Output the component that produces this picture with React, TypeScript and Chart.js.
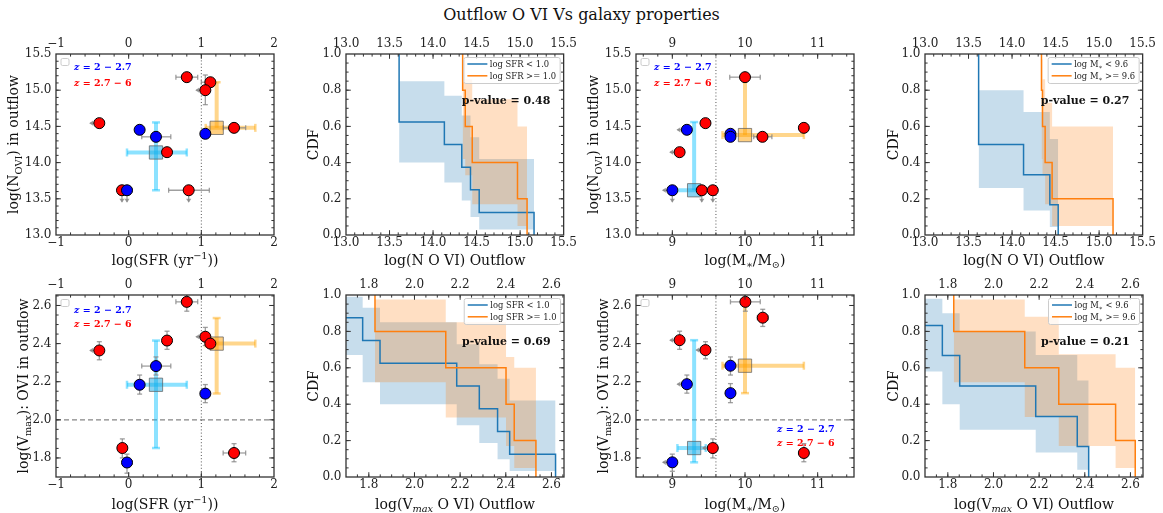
import React, { useEffect, useRef } from "react";
import { Chart, registerables } from "chart.js";

Chart.register(...registerables);

const SERIF = "'DejaVu Serif', 'Liberation Serif', serif";
const BLUE_LINE = "#1f77b4";
const ORANGE_LINE = "#ff7f0e";

// ---------------- tick labels ----------------
const sfrTicks = [-1, 0, 1, 2];
const massTicks = [9, 10, 11];
const nTicks = [13.0, 13.5, 14.0, 14.5, 15.0, 15.5];
const vTicks = [1.8, 2.0, 2.2, 2.4, 2.6];
const cdfTicks = [0.0, 0.2, 0.4, 0.6, 0.8, 1.0];

// z group: 1 -> z = 2.7-6 (red), 0 -> z = 2-2.7 (blue)
// ---------------- Panel 1: log SFR vs log N(OVI) ----------------
const p1X = [0.8, 1.124, 1.055, -0.404, 1.45, 0.528, -0.092, 0.826, 0.151, 0.376, 1.055, -0.023];
const p1Y = [15.18, 15.11, 15.0, 14.545, 14.48, 14.144, 13.618, 13.618, 14.453, 14.356, 14.398, 13.618];
const p1Z = [1, 1, 1, 1, 1, 1, 1, 1, 0, 0, 0, 0];
const p1XErr = [[0.65, 0.95], [1.0, 1.124], [0.93, 1.055], [-0.53, -0.404], [1.3, 1.61], null, [-0.14, -0.05], [0.55, 1.11], null, [0.18, 0.58], null, [-0.08, 0.05]];
const p1YErr = [null, null, [14.8, 15.21], null, null, null, [13.46, 13.618], [13.46, 13.618], null, null, null, [13.46, 13.618]];
const p1Lim = ["", "", "L", "L", "", "", "D", "D", "", "", "", "D"];
const p1SumX = [0.376, 1.211];
const p1SumY = [14.14, 14.48];
const p1SumXErr = [[-0.023, 0.8], [1.06, 1.743]];
const p1SumYErr = [[13.618, 14.555], [14.48, 15.11]];

// ---------------- Panel 3: log M* vs log N(OVI) ----------------
const p3X = [10.0, 9.456, 9.1, 10.24, 10.81, 9.405, 9.557, 9.2, 9.8, 9.8, 9.0];
const p3Y = [15.18, 14.545, 14.144, 14.356, 14.48, 13.618, 13.618, 14.453, 14.398, 14.356, 13.618];
const p3Z = [1, 1, 1, 1, 1, 1, 1, 0, 0, 0, 0];
const p3XErr = [[9.79, 10.21], null, [8.97, 9.1], [10.12, 10.37], null, null, null, [9.07, 9.2], null, null, [8.87, 9.0]];
const p3YErr = [null, null, null, null, null, [13.46, 13.618], [13.46, 13.618], null, null, null, [13.46, 13.618]];
const p3Lim = ["", "", "L", "", "", "D", "D", "L", "", "", "LD"];
const p3SumX = [9.3, 10.0];
const p3SumY = [13.618, 14.38];
const p3SumXErr = [[9.02, 9.45], [9.69, 10.81]];
const p3SumYErr = [[13.618, 14.56], [14.38, 15.18]];

// ---------------- Panel 5: log SFR vs log Vmax ----------------
const p5X = [0.8, 1.055, 1.124, 0.528, -0.404, -0.087, 1.45, 0.376, 0.151, 1.055, -0.023];
const p5Y = [2.619, 2.436, 2.4, 2.416, 2.364, 1.852, 1.826, 2.282, 2.184, 2.1375, 1.776];
const p5Z = [1, 1, 1, 1, 1, 1, 1, 0, 0, 0, 0];
const p5XErr = [[0.65, 0.95], [0.93, 1.055], null, null, [-0.53, -0.404], [-0.14, -0.03], [1.3, 1.61], [0.18, 0.58], null, null, [-0.08, 0.05]];
const p5YErr = [[2.57, 2.665], [2.39, 2.485], null, [2.37, 2.465], [2.315, 2.41], [1.8, 1.9], [1.78, 1.875], [2.235, 2.33], [2.135, 2.235], [2.09, 2.185], [1.72, 1.82]];
const p5Lim = ["", "L", "", "", "L", "", "", "", "", "", ""];
const p5SumX = [0.376, 1.211];
const p5SumY = [2.184, 2.4];
const p5SumXErr = [[-0.023, 0.8], [1.06, 1.743]];
const p5SumYErr = [[1.852, 2.416], [2.138, 2.534]];

// ---------------- Panel 7: log M* vs log Vmax ----------------
const p7X = [10.005, 10.244, 9.1, 9.456, 9.557, 10.81, 9.8, 9.2, 9.8, 9.0];
const p7Y = [2.619, 2.536, 2.418, 2.366, 1.852, 1.826, 2.284, 2.187, 2.14, 1.777];
const p7Z = [1, 1, 1, 1, 1, 1, 0, 0, 0, 0];
const p7XErr = [[9.8, 10.21], [10.17, 10.32], [8.97, 9.1], [9.33, 9.456], [9.42, 9.557], null, null, [9.07, 9.2], null, [8.87, 9.0]];
const p7YErr = [[2.57, 2.665], [2.49, 2.58], [2.37, 2.465], [2.32, 2.41], [1.8, 1.9], [1.78, 1.875], [2.235, 2.33], [2.14, 2.235], [2.09, 2.19], [1.73, 1.82]];
const p7Lim = ["", "", "L", "L", "L", "", "", "L", "", "L"];
const p7SumX = [9.3, 10.0];
const p7SumY = [1.852, 2.284];
const p7SumXErr = [[9.07, 9.46], [9.69, 10.81]];
const p7SumYErr = [[1.777, 2.418], [2.14, 2.619]];

// ---------------- Panel 2: CDF of N(OVI), split by SFR ----------------
const c2BlueX = [13.61, 14.13, 14.33, 14.43, 14.53, 15.16];
const c2BlueS = [0.625, 0.5, 0.375, 0.25, 0.125, 0];
const c2BlueHi = [0.85, 0.77, 0.66, 0.54, 0.42];
const c2BlueLo = [0.4, 0.29, 0.19, 0.1, 0.03];
const c2OrX = [14.34, 14.37, 14.45, 14.97, 15.08];
const c2OrS = [0.8, 0.6, 0.4, 0.2, 0];
const c2OrHi = [0.97, 0.86, 0.75, 0.6];
const c2OrLo = [0.42, 0.33, 0.17, 0.05];

// ---------------- Panel 4: CDF of N(OVI), split by M* ----------------
const c4BlueX = [13.616, 14.132, 14.434, 14.53];
const c4BlueS = [0.5, 0.333, 0.167, 0];
const c4BlueHi = [0.8, 0.68, 0.53];
const c4BlueLo = [0.26, 0.136, 0.044];
const c4OrX = [14.338, 14.35, 14.38, 14.46, 15.16];
const c4OrS = [0.8, 0.6, 0.4, 0.2, 0];
const c4OrHi = [0.97, 0.86, 0.73, 0.6];
const c4OrLo = [0.42, 0.33, 0.17, 0.05];

// ---------------- Panel 6: CDF of Vmax, split by SFR ----------------
const c6BlueX = [1.68, 1.773, 1.849, 2.185, 2.284, 2.364, 2.417, 2.618];
const c6BlueS = [0.875, 0.75, 0.625, 0.5, 0.375, 0.25, 0.125, 0];
const c6BlueHi = [0.99, 0.93, 0.85, 0.73, 0.62, 0.54, 0.42];
const c6BlueLo = [0.67, 0.52, 0.4, 0.285, 0.187, 0.098, 0.033];
const c6OrX = [1.827, 2.137, 2.401, 2.437, 2.532];
const c6OrS = [0.8, 0.6, 0.4, 0.2, 0];
const c6OrHi = [0.975, 0.85, 0.66, 0.6];
const c6OrLo = [0.52, 0.327, 0.17, 0.05];

// ---------------- Panel 8: CDF of Vmax, split by M* ----------------
const c8BlueX = [1.68, 1.776, 1.852, 2.185, 2.367, 2.417];
const c8BlueS = [0.833, 0.667, 0.5, 0.333, 0.167, 0];
const c8BlueHi = [0.98, 0.9, 0.8, 0.67, 0.53];
const c8BlueLo = [0.58, 0.4, 0.26, 0.135, 0.04];
const c8OrX = [1.826, 2.137, 2.286, 2.535, 2.621];
const c8OrS = [0.8, 0.6, 0.4, 0.2, 0];
const c8OrHi = [0.975, 0.88, 0.675, 0.6];
const c8OrLo = [0.52, 0.33, 0.17, 0.05];

const pValues = ["0.48", "0.27", "0.69", "0.21"];

// ---------------- types ----------------
type Seg = { t: string; sub?: boolean; sup?: boolean; i?: boolean; b?: boolean };
interface Axis { min: number; max: number; ticks: number[]; dec: number; minor: number }
interface Pts { x: number[]; y: number[]; z: number[]; xerr: any[]; yerr: any[]; lim: string[] }
interface Sum { x: number[]; y: number[]; xerr: number[][]; yerr: number[][] }
interface Cdf { x: number[]; s: number[]; hi: number[]; lo: number[] }
interface PanelCfg {
  kind: "scatter" | "cdf";
  left: number; top: number; h: number;
  xa: Axis; ya: Axis;
  xTitle: Seg[]; yTitle: Seg[]; yTitleX: number; xTitleDy: number;
  pts?: Pts; sum?: Sum; vline?: number; hline?: number;
  zLeg?: { x: number; y1: number; y2: number; box: boolean };
  blue?: Cdf; orange?: Cdf; legend?: Seg[][]; pval?: string;
}

const PW = 218;
const LEFT_W = 56;
const TOP_H = 30;
const BOT_H = 36;
const RIGHT_PAD = 16;

const sfrAxis: Axis = { min: -1, max: 2, ticks: sfrTicks, dec: 0, minor: 0.2 };
const massAxis: Axis = { min: 8.5, max: 11.5, ticks: massTicks, dec: 0, minor: 0.2 };
const nAxis: Axis = { min: 13.0, max: 15.5, ticks: nTicks, dec: 1, minor: 0.1 };
const vAxis: Axis = { min: 1.7, max: 2.655, ticks: vTicks, dec: 1, minor: 0.05 };
const cdfAxis: Axis = { min: 0, max: 1, ticks: cdfTicks, dec: 1, minor: 0.05 };

const T_SFR: Seg[] = [{ t: "log(SFR (yr" }, { t: "\u22121", sup: true }, { t: "))" }];
const T_MASS: Seg[] = [{ t: "log(M" }, { t: "\u2217", sub: true }, { t: "/M" }, { t: "\u2299", sub: true }, { t: ")" }];
const T_NCDF: Seg[] = [{ t: "log(N O VI) Outflow" }];
const T_VCDF: Seg[] = [{ t: "log(V" }, { t: "max", sub: true, i: true }, { t: " O VI) Outflow" }];
const T_N: Seg[] = [{ t: "log(N" }, { t: "OVI", sub: true }, { t: ") in outflow" }];
const T_V: Seg[] = [{ t: "log(V" }, { t: "max", sub: true }, { t: "): OVI in outflow" }];
const T_CDF: Seg[] = [{ t: "CDF" }];
const L_SFR: Seg[][] = [[{ t: "log SFR < 1.0" }], [{ t: "log SFR >= 1.0" }]];
const L_MASS: Seg[][] = [
  [{ t: "log M" }, { t: "\u2217", sub: true }, { t: " < 9.6" }],
  [{ t: "log M" }, { t: "\u2217", sub: true }, { t: " >= 9.6" }],
];

const COLS = [56, 346, 636, 925];
const ROW1 = { top: 54, h: 181, dy: 24.5 };
const ROW2 = { top: 295, h: 182, dy: 26.5 };

const panels: PanelCfg[] = [
  {
    kind: "scatter", left: COLS[0], top: ROW1.top, h: ROW1.h, xa: sfrAxis, ya: nAxis,
    xTitle: T_SFR, yTitle: T_N, yTitleX: 13.3, xTitleDy: ROW1.dy,
    pts: { x: p1X, y: p1Y, z: p1Z, xerr: p1XErr, yerr: p1YErr, lim: p1Lim },
    sum: { x: p1SumX, y: p1SumY, xerr: p1SumXErr, yerr: p1SumYErr },
    vline: 1, zLeg: { x: 18, y1: 13, y2: 28.5, box: true },
  },
  {
    kind: "cdf", left: COLS[1], top: ROW1.top, h: ROW1.h, xa: nAxis, ya: cdfAxis,
    xTitle: T_NCDF, yTitle: T_CDF, yTitleX: 22.7, xTitleDy: ROW1.dy,
    blue: { x: c2BlueX, s: c2BlueS, hi: c2BlueHi, lo: c2BlueLo },
    orange: { x: c2OrX, s: c2OrS, hi: c2OrHi, lo: c2OrLo },
    legend: L_SFR, pval: pValues[0],
  },
  {
    kind: "scatter", left: COLS[2], top: ROW1.top, h: ROW1.h, xa: massAxis, ya: nAxis,
    xTitle: T_MASS, yTitle: T_N, yTitleX: 13.3, xTitleDy: ROW1.dy,
    pts: { x: p3X, y: p3Y, z: p3Z, xerr: p3XErr, yerr: p3YErr, lim: p3Lim },
    sum: { x: p3SumX, y: p3SumY, xerr: p3SumXErr, yerr: p3SumYErr },
    vline: 9.6, zLeg: { x: 18, y1: 13, y2: 28.5, box: true },
  },
  {
    kind: "cdf", left: COLS[3], top: ROW1.top, h: ROW1.h, xa: nAxis, ya: cdfAxis,
    xTitle: T_NCDF, yTitle: T_CDF, yTitleX: 23.7, xTitleDy: ROW1.dy,
    blue: { x: c4BlueX, s: c4BlueS, hi: c4BlueHi, lo: c4BlueLo },
    orange: { x: c4OrX, s: c4OrS, hi: c4OrHi, lo: c4OrLo },
    legend: L_MASS, pval: pValues[1],
  },
  {
    kind: "scatter", left: COLS[0], top: ROW2.top, h: ROW2.h, xa: sfrAxis, ya: vAxis,
    xTitle: T_SFR, yTitle: T_V, yTitleX: 22.7, xTitleDy: ROW2.dy,
    pts: { x: p5X, y: p5Y, z: p5Z, xerr: p5XErr, yerr: p5YErr, lim: p5Lim },
    sum: { x: p5SumX, y: p5SumY, xerr: p5SumXErr, yerr: p5SumYErr },
    vline: 1, hline: 2.0, zLeg: { x: 18, y1: 15, y2: 29, box: true },
  },
  {
    kind: "cdf", left: COLS[1], top: ROW2.top, h: ROW2.h, xa: vAxis, ya: cdfAxis,
    xTitle: T_VCDF, yTitle: T_CDF, yTitleX: 22.7, xTitleDy: ROW2.dy,
    blue: { x: c6BlueX, s: c6BlueS, hi: c6BlueHi, lo: c6BlueLo },
    orange: { x: c6OrX, s: c6OrS, hi: c6OrHi, lo: c6OrLo },
    legend: L_SFR, pval: pValues[2],
  },
  {
    kind: "scatter", left: COLS[2], top: ROW2.top, h: ROW2.h, xa: massAxis, ya: vAxis,
    xTitle: T_MASS, yTitle: T_V, yTitleX: 23, xTitleDy: ROW2.dy,
    pts: { x: p7X, y: p7Y, z: p7Z, xerr: p7XErr, yerr: p7YErr, lim: p7Lim },
    sum: { x: p7SumX, y: p7SumY, xerr: p7SumXErr, yerr: p7SumYErr },
    vline: 9.6, hline: 2.0, zLeg: { x: 141, y1: 133.5, y2: 148, box: true },
  },
  {
    kind: "cdf", left: COLS[3], top: ROW2.top, h: ROW2.h, xa: vAxis, ya: cdfAxis,
    xTitle: T_VCDF, yTitle: T_CDF, yTitleX: 23.7, xTitleDy: ROW2.dy,
    blue: { x: c8BlueX, s: c8BlueS, hi: c8BlueHi, lo: c8BlueLo },
    orange: { x: c8OrX, s: c8OrS, hi: c8OrHi, lo: c8OrLo },
    legend: L_MASS, pval: pValues[3],
  },
];

// ---------------- helpers ----------------
function fmt(v: number, dec: number) {
  const t = Math.abs(v) < 1e-9 ? 0 : v;
  return t.toFixed(dec).replace("-", "\u2212");
}

function richParts(ctx: CanvasRenderingContext2D, segs: Seg[], size: number, bold = false) {
  return segs.map((s) => {
    const small = s.sub || s.sup;
    const fs = small ? size * 0.7 : size;
    const font = `${s.i ? "italic " : ""}${s.b || bold ? "bold " : ""}${fs}px ${SERIF}`;
    ctx.font = font;
    return { s, font, w: ctx.measureText(s.t).width, dy: s.sub ? size * 0.24 : s.sup ? -size * 0.42 : 0 };
  });
}

function drawRich(ctx: CanvasRenderingContext2D, segs: Seg[], x: number, y: number, size: number,
  align: "left" | "center", color: string, bold = false) {
  const parts = richParts(ctx, segs, size, bold);
  const total = parts.reduce((a, p) => a + p.w, 0);
  let cx = align === "center" ? x - total / 2 : x;
  const base = y + size * 0.36;
  ctx.fillStyle = color;
  ctx.textAlign = "left";
  ctx.textBaseline = "alphabetic";
  for (const p of parts) {
    ctx.font = p.font;
    ctx.fillText(p.s.t, cx, base + p.dy);
    cx += p.w;
  }
  return total;
}

function richWidth(ctx: CanvasRenderingContext2D, segs: Seg[], size: number) {
  return richParts(ctx, segs, size).reduce((a, p) => a + p.w, 0);
}

function minorValues(ax: Axis) {
  const out: number[] = [];
  const k0 = Math.ceil(ax.min / ax.minor - 1e-6);
  for (let k = k0; k * ax.minor <= ax.max + 1e-9; k++) out.push(k * ax.minor);
  return out;
}

function stepLine(xs: number[], ss: number[]) {
  const pts: { x: number; y: number }[] = [];
  let prev = 1;
  xs.forEach((x, i) => {
    pts.push({ x, y: prev });
    pts.push({ x, y: ss[i] });
    prev = ss[i];
  });
  return pts;
}

function bandLine(xs: number[], vals: number[]) {
  const pts: { x: number; y: number }[] = [];
  vals.forEach((v, k) => {
    pts.push({ x: xs[k], y: v });
    pts.push({ x: xs[k + 1], y: v });
  });
  return pts;
}

function seg(ctx: CanvasRenderingContext2D, x0: number, y0: number, x1: number, y1: number) {
  ctx.beginPath();
  ctx.moveTo(x0, y0);
  ctx.lineTo(x1, y1);
  ctx.stroke();
}

function roundRect(ctx: CanvasRenderingContext2D, x: number, y: number, w: number, h: number, r: number) {
  ctx.beginPath();
  ctx.moveTo(x + r, y);
  ctx.lineTo(x + w - r, y);
  ctx.quadraticCurveTo(x + w, y, x + w, y + r);
  ctx.lineTo(x + w, y + h - r);
  ctx.quadraticCurveTo(x + w, y + h, x + w - r, y + h);
  ctx.lineTo(x + r, y + h);
  ctx.quadraticCurveTo(x, y + h, x, y + h - r);
  ctx.lineTo(x, y + r);
  ctx.quadraticCurveTo(x, y, x + r, y);
  ctx.closePath();
}

const SUM_BAR = ["rgba(0,191,255,0.45)", "rgba(255,165,0,0.45)"];
const SUM_FILL = ["rgba(20,165,225,0.5)", "rgba(255,160,0,0.5)"];
const ERR_COL = "rgba(135,135,135,0.8)";

function makeDecor(cfg: PanelCfg) {
  return {
    id: "decor",
    beforeDatasetsDraw(chart: any) {
      const ctx: CanvasRenderingContext2D = chart.ctx;
      const a = chart.chartArea;
      const xs = chart.scales.x, ys = chart.scales.y;
      const X = (v: number) => xs.getPixelForValue(v);
      const Y = (v: number) => ys.getPixelForValue(v);
      ctx.save();
      ctx.beginPath();
      ctx.rect(a.left, a.top, a.right - a.left, a.bottom - a.top);
      ctx.clip();
      if (cfg.hline !== undefined) {
        ctx.strokeStyle = "rgba(120,120,120,0.9)";
        ctx.lineWidth = 1.3;
        ctx.setLineDash([5, 3]);
        seg(ctx, a.left, Y(cfg.hline), a.right, Y(cfg.hline));
      }
      if (cfg.vline !== undefined) {
        ctx.strokeStyle = "#555";
        ctx.lineWidth = 1;
        ctx.setLineDash([1, 2.2]);
        seg(ctx, X(cfg.vline), a.top, X(cfg.vline), a.bottom);
      }
      ctx.setLineDash([]);
      if (cfg.sum) {
        const s = cfg.sum;
        s.x.forEach((x, i) => {
          const y = s.y[i];
          const [x0, x1] = s.xerr[i];
          const [y0, y1] = s.yerr[i];
          ctx.strokeStyle = SUM_BAR[i];
          ctx.lineWidth = 4;
          ctx.lineCap = "butt";
          seg(ctx, X(x0), Y(y), X(x1), Y(y));
          seg(ctx, X(x), Y(y0), X(x), Y(y1));
          ctx.lineWidth = 2.5;
          const cap = 4;
          [x0, x1].forEach((e) => { if (Math.abs(e - x) > 1e-6) seg(ctx, X(e), Y(y) - cap, X(e), Y(y) + cap); });
          [y0, y1].forEach((e) => { if (Math.abs(e - y) > 1e-6) seg(ctx, X(x) - cap, Y(e), X(x) + cap, Y(e)); });
        });
      }
      if (cfg.pts) {
        const p = cfg.pts;
        ctx.strokeStyle = ERR_COL;
        ctx.fillStyle = ERR_COL;
        ctx.lineWidth = 1.3;
        const cap = 2.5;
        p.x.forEach((x, i) => {
          const px = X(x), py = Y(p.y[i]);
          const lim = p.lim[i];
          const xe = p.xerr[i];
          if (xe) {
            seg(ctx, X(xe[0]), py, X(xe[1]), py);
            if (lim.includes("L")) {
              const tip = X(xe[0]) - 1;
              ctx.beginPath();
              ctx.moveTo(tip, py);
              ctx.lineTo(tip + 4, py - 2.6);
              ctx.lineTo(tip + 4, py + 2.6);
              ctx.closePath();
              ctx.fill();
            } else {
              seg(ctx, X(xe[0]), py - cap, X(xe[0]), py + cap);
            }
            if (Math.abs(xe[1] - x) > 1e-6) seg(ctx, X(xe[1]), py - cap, X(xe[1]), py + cap);
          }
          const ye = p.yerr[i];
          if (ye) {
            seg(ctx, px, Y(ye[0]), px, Y(ye[1]));
            if (lim.includes("D")) {
              const tip = Y(ye[0]) + 1;
              ctx.beginPath();
              ctx.moveTo(px, tip);
              ctx.lineTo(px - 2.6, tip - 4);
              ctx.lineTo(px + 2.6, tip - 4);
              ctx.closePath();
              ctx.fill();
            } else {
              seg(ctx, px - cap, Y(ye[0]), px + cap, Y(ye[0]));
            }
            if (Math.abs(ye[1] - p.y[i]) > 1e-6) seg(ctx, px - cap, Y(ye[1]), px + cap, Y(ye[1]));
          }
        });
      }
      ctx.restore();
    },
    afterDatasetsDraw(chart: any) {
      const ctx: CanvasRenderingContext2D = chart.ctx;
      const a = chart.chartArea;
      const xs = chart.scales.x, ys = chart.scales.y;
      ctx.save();
      ctx.strokeStyle = "#333";
      ctx.lineWidth = 1;
      const drawX = (vals: number[], len: number) => vals.forEach((v) => {
        const px = xs.getPixelForValue(v);
        if (px < a.left + 0.5 || px > a.right - 0.5) return;
        seg(ctx, px, a.bottom, px, a.bottom - len);
        seg(ctx, px, a.top, px, a.top + len);
      });
      const drawY = (vals: number[], len: number) => vals.forEach((v) => {
        const py = ys.getPixelForValue(v);
        if (py < a.top + 0.5 || py > a.bottom - 0.5) return;
        seg(ctx, a.left, py, a.left + len, py);
        seg(ctx, a.right, py, a.right - len, py);
      });
      drawX(minorValues(cfg.xa), 2.6);
      drawY(minorValues(cfg.ya), 2.6);
      drawX(cfg.xa.ticks, 4.8);
      drawY(cfg.ya.ticks, 4.8);
      ctx.lineWidth = 1.3;
      ctx.strokeRect(a.left, a.top, a.right - a.left, a.bottom - a.top);
      ctx.restore();
    },
    afterDraw(chart: any) {
      const ctx: CanvasRenderingContext2D = chart.ctx;
      const a = chart.chartArea;
      const W = a.right - a.left, H = a.bottom - a.top;
      ctx.save();
      // axis titles
      drawRich(ctx, cfg.xTitle, (a.left + a.right) / 2, a.bottom + cfg.xTitleDy, 14, "center", "#111");
      ctx.save();
      ctx.translate(cfg.yTitleX, (a.top + a.bottom) / 2);
      ctx.rotate(-Math.PI / 2);
      drawRich(ctx, cfg.yTitle, 0, 0, 14, "center", "#111");
      ctx.restore();

      if (cfg.zLeg) {
        const z = cfg.zLeg;
        if (z.box) {
          ctx.fillStyle = "rgba(255,255,255,0.8)";
          ctx.strokeStyle = "#cccccc";
          ctx.lineWidth = 1;
          roundRect(ctx, a.left + 5, a.top + 4.5, 8, 7, 1.5);
          ctx.fill();
          ctx.stroke();
        }
        const l1: Seg[] = [{ t: "z", i: true, b: true }, { t: " = 2 \u2212 2.7", b: true }];
        const l2: Seg[] = [{ t: "z", i: true, b: true }, { t: " = 2.7 \u2212 6", b: true }];
        drawRich(ctx, l1, a.left + z.x, a.top + z.y1, 9.5, "left", "#0000ff");
        drawRich(ctx, l2, a.left + z.x, a.top + z.y2, 9.5, "left", "#ff0000");
      }

      if (cfg.legend) {
        const fs = 8.4;
        const tw = Math.max(...cfg.legend.map((l) => richWidth(ctx, l, fs)));
        const bw = 26 + tw + 4;
        const bh = 26;
        const bx = a.right - 3.5 - bw;
        const by = a.top + 3.5;
        ctx.fillStyle = "rgba(255,255,255,0.8)";
        ctx.strokeStyle = "#cccccc";
        ctx.lineWidth = 1;
        roundRect(ctx, bx, by, bw, bh, 2);
        ctx.fill();
        ctx.stroke();
        const cols = [BLUE_LINE, ORANGE_LINE];
        cfg.legend.forEach((l, i) => {
          const cy = by + 6.5 + i * 11.8;
          ctx.strokeStyle = cols[i];
          ctx.lineWidth = 1.5;
          seg(ctx, bx + 3.5, cy, bx + 23.5, cy);
          drawRich(ctx, l, bx + 26, cy, fs, "left", "#222");
        });
      }

      if (cfg.pval) {
        drawRich(ctx, [{ t: "p-value = " + cfg.pval, b: true }], a.left + 0.532 * W, a.top + 0.255 * H, 11, "left", "#111");
      }
      ctx.restore();
    },
  };
}

function axisOpts(ax: Axis, pos: "left" | "bottom" | "top", size: number) {
  return {
    type: "linear",
    position: pos,
    min: ax.min,
    max: ax.max,
    grid: { display: false, drawTicks: false },
    border: { display: false },
    ticks: {
      font: { family: SERIF, size: 12 },
      color: "#222",
      padding: pos === "top" ? 3 : pos === "bottom" ? 0.5 : 4.5,
      autoSkip: false,
      maxRotation: 0,
      minRotation: 0,
      callback: (v: any) => fmt(Number(v), ax.dec),
    },
    afterBuildTicks: (s: any) => {
      s.ticks = ax.ticks.map((v) => ({ value: v }));
    },
    afterFit: (s: any) => {
      if (pos === "left") s.width = size;
      else s.height = size;
    },
  };
}

function buildConfig(cfg: PanelCfg): any {
  const scales = {
    x: axisOpts(cfg.xa, "bottom", BOT_H),
    x2: axisOpts(cfg.xa, "top", TOP_H),
    y: axisOpts(cfg.ya, "left", LEFT_W),
  };
  let datasets: any[] = [];
  let type = "scatter";
  if (cfg.kind === "scatter" && cfg.pts && cfg.sum) {
    const p = cfg.pts;
    const s = cfg.sum;
    const mk = (z: number) => p.x.map((x, i) => ({ x, y: p.y[i], z: p.z[i] })).filter((d) => d.z === z);
    datasets = [
      {
        label: "z = 2 - 2.7", data: mk(0), pointRadius: 5.5, pointHoverRadius: 5.5,
        backgroundColor: "#0000ff", borderColor: "#000", borderWidth: 1, order: 0,
      },
      {
        label: "z = 2.7 - 6", data: mk(1), pointRadius: 5.5, pointHoverRadius: 5.5,
        backgroundColor: "#ff0000", borderColor: "#000", borderWidth: 1, order: 1,
      },
      {
        label: "median", data: s.x.map((x, i) => ({ x, y: s.y[i] })), pointStyle: "rect",
        pointRadius: 9.4, pointHoverRadius: 9.4, backgroundColor: SUM_FILL,
        borderColor: "rgba(90,90,90,0.7)", borderWidth: 1, order: 2,
      },
    ];
  } else if (cfg.blue && cfg.orange && cfg.legend) {
    type = "line";
    const b = cfg.blue, o = cfg.orange;
    const base = { pointRadius: 0, pointHoverRadius: 0, tension: 0 };
    datasets = [
      { ...base, label: "blue", data: stepLine(b.x, b.s), borderColor: BLUE_LINE, borderWidth: 1.5, fill: false, order: 1 },
      { ...base, label: "orange", data: stepLine(o.x, o.s), borderColor: ORANGE_LINE, borderWidth: 1.5, fill: false, order: 0 },
      { ...base, label: "blue CI", data: bandLine(b.x, b.hi), borderColor: "transparent", borderWidth: 0, fill: "+1", backgroundColor: "rgba(31,119,180,0.25)", order: 3 },
      { ...base, label: "blue CI lo", data: bandLine(b.x, b.lo), borderColor: "transparent", borderWidth: 0, fill: false, order: 3 },
      { ...base, label: "orange CI", data: bandLine(o.x, o.hi), borderColor: "transparent", borderWidth: 0, fill: "+1", backgroundColor: "rgba(255,127,14,0.25)", order: 2 },
      { ...base, label: "orange CI lo", data: bandLine(o.x, o.lo), borderColor: "transparent", borderWidth: 0, fill: false, order: 2 },
    ];
  }
  return {
    type,
    data: { datasets },
    options: {
      animation: false,
      responsive: false,
      maintainAspectRatio: false,
      devicePixelRatio: 1,
      events: [],
      layout: { padding: { left: 0, top: 0, bottom: 0, right: RIGHT_PAD } },
      plugins: { legend: { display: false }, tooltip: { enabled: false }, title: { display: false } },
      scales,
    },
    plugins: [makeDecor(cfg)],
  };
}

function Panel({ cfg }: { cfg: PanelCfg }) {
  const ref = useRef<HTMLCanvasElement>(null);
  const W = LEFT_W + PW + RIGHT_PAD;
  const H = TOP_H + cfg.h + BOT_H;
  useEffect(() => {
    if (!ref.current) return;
    const chart = new Chart(ref.current, buildConfig(cfg));
    return () => chart.destroy();
  }, [cfg]);
  return (
    <canvas
      ref={ref}
      width={W}
      height={H}
      style={{ position: "absolute", left: cfg.left - LEFT_W, top: cfg.top - TOP_H, width: W, height: H }}
    />
  );
}

export default function App() {
  return (
    <div style={{ position: "absolute", left: 0, top: 0, width: 1163, height: 513, background: "#fff", overflow: "hidden" }}>
      <div
        style={{
          position: "absolute", left: 0, top: 5, width: 1163, textAlign: "center",
          fontFamily: SERIF, fontSize: 16, lineHeight: "20px", color: "#111",
        }}
      >
        Outflow O VI Vs galaxy properties
      </div>
      {panels.map((p, i) => (
        <Panel key={i} cfg={p} />
      ))}
    </div>
  );
}
